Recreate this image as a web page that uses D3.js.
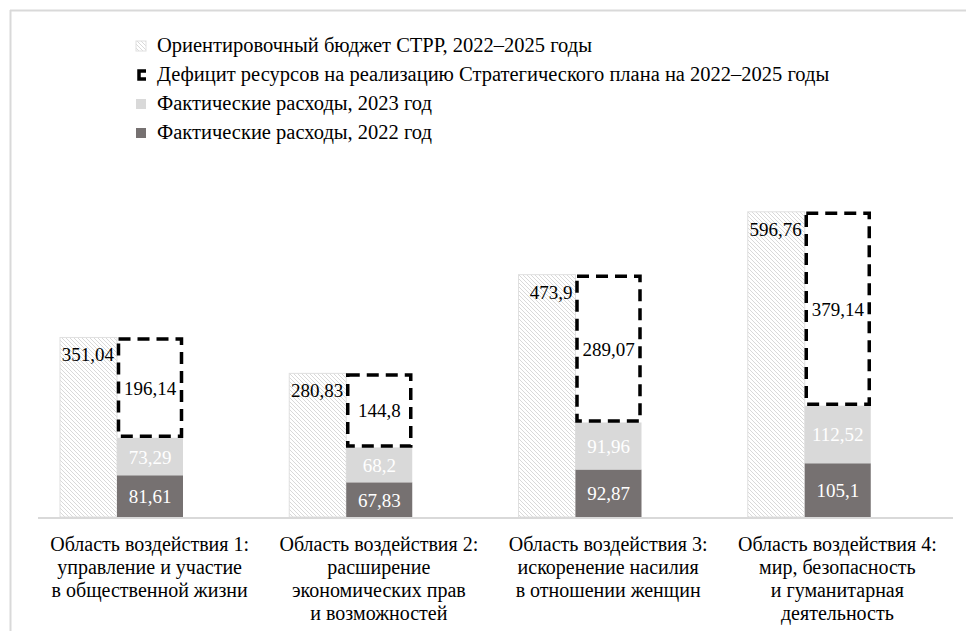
<!DOCTYPE html>
<html><head><meta charset="utf-8">
<script src="https://cdn.jsdelivr.net/npm/d3@7"></script>
<style>body{margin:0;background:#fff;}</style>
</head><body>
<svg id="c" width="966" height="631"></svg>
<script>
const categories = [
  ["Область воздействия 1:", "управление и участие", "в общественной жизни"],
  ["Область воздействия 2:", "расширение", "экономических прав", "и возможностей"],
  ["Область воздействия 3:", "искоренение насилия", "в отношении женщин"],
  ["Область воздействия 4:", "мир, безопасность", "и гуманитарная", "деятельность"]
];
const budget = [351.04, 280.83, 473.9, 596.76];
const spent2022 = [81.61, 67.83, 92.87, 105.1];
const spent2023 = [73.29, 68.2, 91.96, 112.52];
const deficit = [196.14, 144.8, 289.07, 379.14];
const budgetLabels = ["351,04", "280,83", "473,9", "596,76"];
const s2022Labels = ["81,61", "67,83", "92,87", "105,1"];
const s2023Labels = ["73,29", "68,2", "91,96", "112,52"];
const deficitLabels = ["196,14", "144,8", "289,07", "379,14"];
const legendLabels = [
  "Ориентировочный бюджет СТРР, 2022–2025 годы",
  "Дефицит ресурсов на реализацию Стратегического плана на 2022–2025 годы",
  "Фактические расходы, 2023 год",
  "Фактические расходы, 2022 год"
];
const FONT = "'Liberation Serif'";

const svg = d3.select("#c");
const defs = svg.append("defs");
const pat = defs.append("pattern").attr("id","hatch").attr("patternUnits","userSpaceOnUse")
  .attr("width",4).attr("height",4);
pat.append("rect").attr("width",4).attr("height",4).attr("fill","#fff");
pat.append("path").attr("d","M-1,-1 L5,5 M-1,3 L1,5 M3,-1 L5,1").attr("stroke","#cfcfcf").attr("stroke-width",0.8);

// border
svg.append("line").attr("x1",10.5).attr("x2",10.5).attr("y1",10).attr("y2",631).attr("stroke","#d9d9d9").attr("stroke-width",2);
svg.append("line").attr("x1",10).attr("x2",966).attr("y1",10.5).attr("y2",10.5).attr("stroke","#d9d9d9").attr("stroke-width",2);

const idx = d3.range(categories.length);
const x = d3.scaleBand().domain(idx).range([35, 952]);
const y = d3.scaleLinear().domain([0, 700]).range([517, 159]);
const hOff = 25, hW = 57, sOff = 82, sW = 66;

const g = svg.append("g");
g.selectAll(".b").data(idx).join("rect")
  .attr("x", i => x(i)+hOff).attr("width", hW)
  .attr("y", i => y(budget[i])).attr("height", i => y(0)-y(budget[i]))
  .attr("fill","url(#hatch)").attr("stroke","#e0e0e0").attr("stroke-width",1);
g.selectAll(".bl").data(idx).join("text")
  .attr("font-family", FONT)
  .attr("x", i => x(i)+hOff+hW-3).attr("y", i => y(budget[i])+24)
  .attr("text-anchor","end").attr("font-size",19).attr("fill","#000")
  .text(i => budgetLabels[i]);

g.selectAll(".s1").data(idx).join("rect")
  .attr("x", i => x(i)+sOff).attr("width", sW)
  .attr("y", i => y(spent2022[i])).attr("height", i => y(0)-y(spent2022[i]))
  .attr("fill","#767171");
g.selectAll(".s1l").data(idx).join("text")
  .attr("font-family", FONT)
  .attr("x", i => x(i)+sOff+sW/2).attr("y", i => (y(0)+y(spent2022[i]))/2+7)
  .attr("text-anchor","middle").attr("font-size",19).attr("fill","#fff")
  .text(i => s2022Labels[i]);
g.selectAll(".s2").data(idx).join("rect")
  .attr("x", i => x(i)+sOff).attr("width", sW)
  .attr("y", i => y(spent2022[i]+spent2023[i])).attr("height", i => y(spent2022[i])-y(spent2022[i]+spent2023[i]))
  .attr("fill","#d9d9d9");
g.selectAll(".s2l").data(idx).join("text")
  .attr("font-family", FONT)
  .attr("x", i => x(i)+sOff+sW/2).attr("y", i => (y(spent2022[i])+y(spent2022[i]+spent2023[i]))/2+7)
  .attr("text-anchor","middle").attr("font-size",19).attr("fill","#fff")
  .text(i => s2023Labels[i]);
g.selectAll(".d").data(idx).join("rect")
  .attr("x", i => x(i)+sOff+1.5).attr("width", sW-3)
  .attr("y", i => y(spent2022[i]+spent2023[i]+deficit[i])+1.5)
  .attr("height", i => y(spent2022[i]+spent2023[i])-y(spent2022[i]+spent2023[i]+deficit[i])-3)
  .attr("fill","none").attr("stroke","#000").attr("stroke-width",3.5).attr("stroke-dasharray","12,7");
g.selectAll(".dl").data(idx).join("text")
  .attr("font-family", FONT)
  .attr("x", i => x(i)+sOff+sW/2).attr("y", i => (y(spent2022[i]+spent2023[i])+y(spent2022[i]+spent2023[i]+deficit[i]))/2+7)
  .attr("text-anchor","middle").attr("font-size",19).attr("fill","#000")
  .text(i => deficitLabels[i]);

svg.append("line").attr("x1",38).attr("x2",953).attr("y1",y(0)+1).attr("y2",y(0)+1).attr("stroke","#d9d9d9").attr("stroke-width",2);

const cl = svg.selectAll(".cat").data(idx).join("text")
  .attr("font-family", FONT)
  .attr("text-anchor","middle").attr("font-size",20).attr("fill","#000");
cl.each(function(i){
  const t = d3.select(this);
  categories[i].forEach((line,k)=>{
    t.append("tspan").attr("x", x(i)+x.bandwidth()/2).attr("y", 551+k*23).text(line);
  });
});

const ly = [46, 75, 104, 133];
const lg = svg.append("g");
lg.append("rect").attr("x",136).attr("y",ly[0]-5).attr("width",10).attr("height",10).attr("fill","url(#hatch)").attr("stroke","#e0e0e0");
lg.append("path").attr("d",`M146,${ly[1]-4} L139,${ly[1]-4} L139,${ly[1]+4} L146,${ly[1]+4}`).attr("fill","none").attr("stroke","#000").attr("stroke-width",3.5);
lg.append("rect").attr("x",136).attr("y",ly[2]-5).attr("width",10).attr("height",10).attr("fill","#d9d9d9");
lg.append("rect").attr("x",136).attr("y",ly[3]-5).attr("width",10).attr("height",10).attr("fill","#767171");
lg.selectAll("text.leg").data(legendLabels).join("text").attr("class","leg")
  .attr("font-family", FONT)
  .attr("x",157).attr("y",(d,i)=>ly[i]+6).attr("font-size",20.5).attr("fill","#000").text(d=>d);
</script>
</body></html>
